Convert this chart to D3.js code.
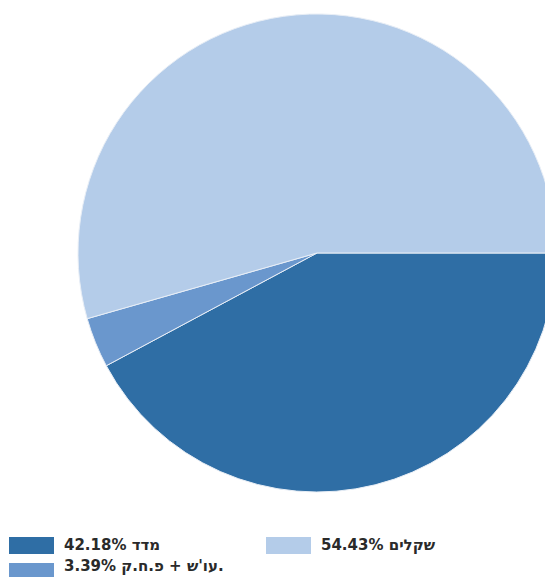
<!DOCTYPE html>
<html><head><meta charset="utf-8">
<script src="https://cdn.jsdelivr.net/npm/d3@7"></script>
<style>html,body{margin:0;padding:0;background:#fff;}svg{display:block;}</style>
</head><body>
<svg id="c" width="545" height="577"></svg>
<script>
const categories = ["מדד", "עו'ש + פ.ח.ק", "שקלים"];
const values = [42.18, 3.39, 54.43];
const legendLabels = ["42.18% מדד", "3.39% עו'ש + פ.ח.ק.", "54.43% שקלים"];
const colors = ["#2f6ea5", "#6a97cd", "#b4cce9"];

const svg = d3.select("#c");
const cx = 317, cy = 253, r = 239;

const pie = d3.pie().sort(null).value(d => d)
  .startAngle(Math.PI / 2).endAngle(Math.PI / 2 + 2 * Math.PI);
const arc = d3.arc().innerRadius(0).outerRadius(r);
const color = d3.scaleOrdinal().domain(categories).range(colors);

svg.append("g").attr("transform", `translate(${cx},${cy})`)
  .selectAll("path").data(pie(values)).join("path")
  .attr("d", arc)
  .attr("fill", (d, i) => color(categories[i]))
  .attr("stroke", "#e8eef6").attr("stroke-width", 1);

const legPos = [[9, 537, 550], [9, 563, 571], [266, 537, 550]];
const lg = svg.append("g");
categories.forEach((c, i) => {
  const [x, y, by] = legPos[i];
  lg.append("rect").attr("x", x).attr("y", y).attr("width", 45).attr("height", 17)
    .attr("fill", color(c));
  lg.append("text").attr("x", x + 55).attr("y", by)
    .attr("direction", "ltr")
    .attr("font-family", "DejaVu Sans").attr("font-weight", "bold")
    .attr("font-size", 15).attr("fill", "#2a2a2a")
    .text(legendLabels[i]);
});
</script>
</body></html>
